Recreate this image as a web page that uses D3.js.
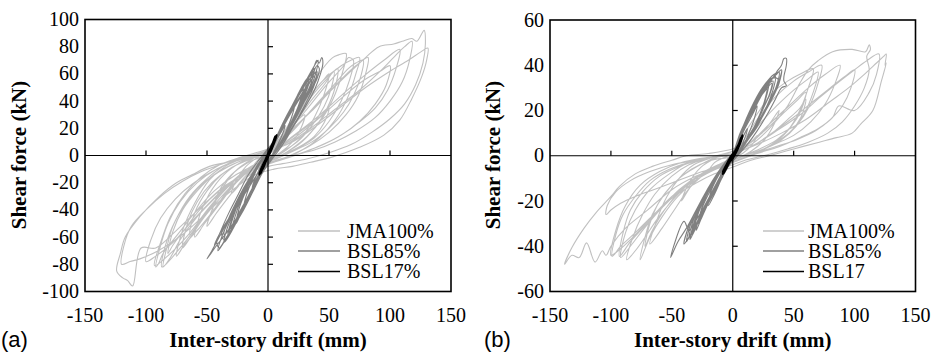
<!DOCTYPE html>
<html>
<head>
<meta charset="utf-8">
<script src="https://cdn.jsdelivr.net/npm/d3@7"></script>
<style>
  body { margin: 0; background: #fff; }
  svg { display: block; }
</style>
</head>
<body>
<svg id="chart" width="933" height="354"></svg>
<script>
// drift (mm), shear force (kN) pairs
var jmaA = [[0,0],[5,6],[12,13],[18,18],[15,12],[8,4],[0,-2],[-6,-6],[-12,-12],[-18,-16],[-14,-10],[-8,-3],[0,2],
  [10,12],[20,22],[30,30],[27,20],[20,10],[10,2],[0,-3],[-10,-9],[-20,-18],[-30,-28],[-26,-18],[-18,-8],[-8,-1],[0,3],
  [10,12],[20,26],[32,42],[45,55],[50,60],[46,45],[38,28],[28,14],[15,4],[0,-4],[-15,-12],[-30,-28],[-42,-42],[-50,-52],[-45,-38],[-36,-22],[-25,-10],[-12,-2],[0,4],
  [12,14],[25,30],[38,46],[50,58],[57,64],[55,50],[48,34],[38,20],[25,8],[10,0],[0,-4],[-12,-9],[-26,-20],[-40,-36],[-52,-50],[-60,-60],[-56,-44],[-48,-28],[-36,-14],[-22,-5],[-8,0],[0,3],
  [12,16],[25,35],[40,58],[53,72],[58,74],[64,75],[62,64],[55,45],[45,28],[32,14],[18,4],[5,-3],[-10,-8],[-25,-18],[-40,-35],[-55,-52],[-68,-65],[-75,-74],[-70,-55],[-60,-35],[-48,-18],[-35,-8],[-20,-2],[-5,2],[5,6],
  [10,10],[22,24],[35,40],[46,52],[54,62],[52,50],[46,36],[36,22],[24,10],[10,2],[0,-3],[-14,-8],[-28,-18],[-42,-32],[-54,-46],[-64,-58],[-60,-42],[-50,-26],[-38,-14],[-24,-6],[-10,-1],[0,1],
  [15,18],[30,38],[45,55],[60,66],[68,70],[75,72],[72,60],[65,42],[55,26],[42,13],[28,4],[12,-3],[0,-6],[-15,-10],[-30,-20],[-48,-38],[-65,-58],[-80,-72],[-93,-81],[-88,-64],[-80,-45],[-68,-28],[-55,-16],[-40,-7],[-25,-2],[-10,2],[0,5],
  [15,16],[30,32],[48,52],[62,66],[66,72],[70,70],[67,56],[60,40],[50,25],[38,13],[22,4],[8,-2],[-5,-6],[-20,-13],[-38,-28],[-55,-48],[-72,-68],[-87,-82],[-84,-66],[-76,-48],[-64,-30],[-50,-17],[-35,-7],[-18,-1],[0,4],
  [18,16],[36,34],[54,52],[66,64],[72,68],[78,70],[76,58],[70,44],[62,32],[50,20],[36,10],[20,3],[5,-3],[-10,-7],[-26,-14],[-44,-26],[-60,-42],[-74,-58],[-86,-72],[-90,-80],[-92,-82],[-88,-66],[-82,-50],[-72,-34],[-58,-20],[-42,-10],[-26,-4],[-10,0],[0,2],
  [15,14],[30,28],[45,42],[60,56],[72,66],[82,72],[80,60],[74,44],[64,30],[50,17],[34,7],[18,0],[4,-5],[-10,-9],[-28,-18],[-45,-32],[-62,-48],[-78,-64],[-92,-74],[-100,-78],[-96,-62],[-88,-46],[-76,-32],[-62,-21],[-46,-12],[-30,-5],[-14,-1],[0,2],
  [18,18],[35,32],[52,48],[68,62],[80,72],[91,80],[103,82],[110,84],[118,86],[122,84],[128,92],[129,82],[127,68],[121,52],[112,38],[100,27],[85,17],[68,8],[50,2],[30,-3],[12,-6],[0,-8],
  [-15,-12],[-35,-22],[-55,-38],[-75,-55],[-92,-68],[-104,-68],[-111,-96],[-115,-92],[-119,-90],[-124,-85],[-121,-72],[-117,-60],[-105,-45],[-89,-30],[-75,-20],[-62,-14],[-48,-8],[-34,-5],[-20,-1],[-7,0],[0,3],
  [20,10],[40,22],[60,36],[80,50],[100,62],[115,70],[125,76],[131,79],[130,70],[126,58],[118,42],[108,26],[95,15],[75,6],[53,-1],[35,-5],[20,-8],[5,-10],
  [-10,-14],[-30,-26],[-50,-42],[-70,-58],[-90,-70],[-105,-76],[-113,-78],[-120,-80],[-118,-66],[-112,-52],[-100,-40],[-85,-28],[-70,-19],[-55,-12],[-40,-7],[-25,-3],[-10,0],[0,2],
  [15,8],[35,20],[55,34],[75,48],[92,62],[105,74],[112,80],[118,84],[116,70],[110,54],[100,40],[88,28],[72,18],[55,10],[38,4],[20,0],[5,-4],
  [-10,-8],[-25,-16],[-42,-30],[-58,-45],[-72,-62],[-80,-75],[-86,-82],[-83,-68],[-78,-52],[-68,-36],[-55,-22],[-40,-12],[-25,-5],[-10,0],[0,1],
  [20,14],[40,28],[60,44],[78,58],[95,70],[108,78],[105,64],[98,48],[88,35],[74,24],[58,14],[40,6],[22,0],[8,-4],[-8,-9],[-24,-16],[-40,-26],[-56,-40],[-68,-54],[-78,-66],[-82,-72],[-78,-56],[-70,-40],[-58,-26],[-44,-14],[-28,-6],[-12,-1],[0,2],
  [20,12],[40,26],[60,42],[78,55],[92,62],[100,66],[97,52],[88,38],[75,25],[60,15],[42,7],[25,1],[8,-4],
  [-8,-8],[-22,-16],[-38,-30],[-52,-45],[-62,-58],[-70,-68],[-66,-50],[-58,-34],[-46,-20],[-32,-10],[-18,-4],[-5,0],[0,1],
  [15,10],[30,20],[42,28],[50,35],[46,24],[38,14],[25,6],[10,0],[0,-3],[-12,-8],[-25,-16],[-35,-28],[-45,-40],[-40,-26],[-30,-14],[-18,-6],[-5,-1],[0,0]];

var bsl85A = [[0,0],[5,8],[10,16],[14,22],[12,16],[8,8],[3,0],[0,-4],[-5,-10],[-10,-18],[-13,-24],[-11,-18],[-7,-10],[-3,-2],[0,3],
  [6,12],[12,22],[18,32],[22,38],[20,30],[15,18],[10,8],[4,0],[-2,-5],[-8,-15],[-14,-28],[-20,-38],[-18,-30],[-13,-18],[-8,-8],[-3,0],[2,5],
  [5,10],[11,20],[17,30],[23,38],[27,44],[25,36],[20,26],[14,15],[7,4],[0,-4],[-7,-14],[-14,-26],[-20,-36],[-24,-42],[-22,-34],[-17,-23],[-11,-12],[-4,-2],[0,0],
  [8,14],[15,28],[22,40],[28,50],[32,56],[30,48],[25,36],[18,22],[10,8],[3,-2],[-4,-10],[-12,-24],[-20,-38],[-26,-48],[-30,-55],[-27,-45],[-22,-32],[-15,-18],[-8,-6],[0,4],
  [6,10],[12,22],[19,34],[25,44],[29,50],[27,42],[22,30],[15,17],[8,5],[1,-3],[-6,-13],[-14,-27],[-21,-40],[-26,-50],[-24,-40],[-19,-28],[-12,-15],[-5,-4],[2,4],
  [8,15],[16,30],[24,44],[30,54],[35,60],[38,66],[40,70],[42,68],[44,72],[45,68],[43,60],[38,48],[30,35],[20,20],[12,8],[4,-2],[-4,-12],[-12,-26],[-20,-40],[-28,-52],[-34,-60],[-40,-68],[-42,-64],[-38,-54],[-32,-42],[-24,-28],[-16,-14],[-8,-4],[0,5],
  [9,16],[17,30],[25,44],[31,54],[36,62],[34,54],[29,42],[21,28],[13,14],[5,2],[-3,-8],[-11,-22],[-19,-36],[-26,-48],[-33,-58],[-30,-48],[-24,-34],[-16,-20],[-8,-8],[0,3],
  [6,12],[13,25],[20,37],[27,48],[33,57],[31,48],[26,37],[19,24],[11,11],[3,0],[-6,-10],[-16,-24],[-26,-38],[-34,-50],[-40,-60],[-44,-66],[-40,-58],[-32,-46],[-24,-36],[-18,-26],[-12,-14],[-5,-4],[1,3],
  [7,14],[14,27],[22,40],[30,52],[36,58],[40,62],[38,52],[33,42],[26,30],[18,18],[10,7],[2,-3],[-6,-14],[-15,-30],[-25,-45],[-35,-58],[-42,-66],[-50,-76],[-46,-70],[-40,-60],[-34,-50],[-26,-36],[-18,-22],[-10,-10],[-3,-1],[3,6],
  [7,13],[14,26],[21,38],[28,48],[33,56],[31,46],[26,35],[19,22],[11,9],[3,-1],[-5,-11],[-13,-25],[-21,-38],[-27,-48],[-31,-54],[-28,-44],[-22,-30],[-14,-16],[-6,-5],[1,3],
  [10,18],[18,32],[26,46],[34,58],[38,64],[36,55],[31,44],[24,32],[16,18],[8,6],[0,-4],[-8,-16],[-16,-30],[-24,-44],[-30,-56],[-36,-64],[-34,-55],[-28,-42],[-20,-28],[-12,-14],[-5,-3],[2,5],
  [10,18],[19,34],[27,48],[33,58],[38,66],[41,70],[39,60],[34,48],[26,34],[17,18],[9,6],[1,-4],[-7,-16],[-15,-30],[-23,-44],[-30,-56],[-37,-65],[-41,-70],[-38,-60],[-31,-46],[-23,-32],[-15,-18],[-7,-6],[0,2],
  [10,17],[18,30],[26,42],[32,50],[36,56],[34,48],[28,38],[20,25],[12,12],[4,0],[-5,-11],[-14,-26],[-22,-40],[-28,-50],[-32,-58],[-30,-48],[-25,-36],[-18,-23],[-10,-10],[-2,0],[4,7],
  [12,20],[20,34],[28,46],[34,54],[40,60],[37,52],[30,40],[22,26],[14,14],[6,2],[-2,-8],[-10,-20],[-18,-34],[-25,-46],[-30,-52],[-36,-58],[-33,-48],[-27,-36],[-20,-24],[-12,-12],[-4,-2],[0,2],
  [8,14],[16,28],[24,42],[30,52],[34,58],[37,62],[36,57],[40,66],[42,64],[40,56],[34,46],[26,34],[18,20],[10,8],[2,-2],[-6,-14],[-14,-28],[-22,-42],[-30,-54],[-36,-62],[-38,-56],[-32,-46],[-25,-34],[-17,-20],[-9,-8],[0,2]];

var bsl17A = [[0,0],[3,6],[5,11],[7,15],[6,12],[3,5],[0,-1],[-3,-6],[-5,-10],[-7,-14],[-6,-11],[-3,-5],[0,1],[3,7],[6,13],[5,10],[2,3],[-1,-3],[-4,-8],[-6,-13],[-5,-9],[-2,-3],[1,3],[4,9],[6,14],[5,11],[2,4],[-1,-2],[-4,-9],[-7,-13],[-5,-10],[-2,-4],[0,0]];

var jmaB = [[0,0],[8,3],[15,6],[20,9],[16,5],[8,1],[0,-1],[-8,-3],[-15,-5],[-20,-7],[-15,-3],[-8,-1],[0,1],
  [10,4],[20,8],[30,14],[38,20],[34,14],[26,7],[15,2],[0,-2],[-12,-4],[-25,-8],[-35,-14],[-42,-20],[-36,-12],[-26,-5],[-14,-1],[0,2],
  [12,5],[26,11],[40,18],[52,24],[60,28],[56,20],[48,13],[36,7],[22,3],[8,0],[-6,-3],[-22,-7],[-40,-14],[-56,-24],[-66,-33],[-72,-40],[-68,-30],[-60,-20],[-48,-12],[-34,-6],[-18,-2],[0,0],
  [5,5],[11,11],[22,20],[33,28],[45,33],[55,36],[66,38.5],[62,30],[55,20],[45,11],[32,5],[18,1],[5,-2],[-8,-4],[-20,-7],[-35,-14],[-48,-24],[-58,-32],[-68,-39],[-62,-28],[-54,-18],[-44,-10],[-32,-4],[-18,-1],[0,2],
  [10,6],[22,14],[36,22],[50,29],[62,34],[70,37],[66,28],[58,18],[46,10],[32,5],[18,1],[4,-2],[-10,-4],[-26,-8],[-44,-15],[-60,-24],[-74,-33],[-84,-40],[-92,-45],[-88,-34],[-80,-24],[-68,-15],[-52,-8],[-36,-3],[-18,-1],[0,1],
  [8,6],[20,16],[35,26],[50,33],[62,37],[73,40],[70,32],[63,22],[52,13],[40,7],[25,3],[10,0],[-5,-3],[-20,-6],[-35,-12],[-50,-20],[-62,-28],[-72,-36],[-80,-42],[-87,-46],[-82,-36],[-74,-26],[-64,-17],[-50,-9],[-36,-4],[-20,-1],[0,2],
  [15,5],[30,12],[45,22],[55,32],[62,38],[70,42],[82,46],[98,47],[109,46],[112,49],[113,47],[110,44],[112,38],[108,30],[100,22],[90,15],[78,10],[62,6],[45,3],[25,0],[10,-2],[0,-4],
  [-15,-6],[-30,-9],[-50,-15],[-70,-24],[-88,-32],[-100,-40],[-104,-44],[-107,-42],[-113,-47],[-120,-38.5],[-126,-45],[-132,-44],[-138,-48],[-132,-40.6],[-122,-32],[-112,-25],[-100,-18],[-93,-13.5],[-80,-8],[-66,-4.7],[-50,-2],[-38,0],[-20,1],[0,3],
  [14,6],[30,14],[46,22],[62,30],[76,36],[88,40],[84,32],[76,23],[64,15],[50,9],[34,5],[18,1],[4,-2],[-12,-5],[-30,-10],[-50,-18],[-68,-28],[-82,-36],[-94,-42],[-100,-44],[-96,-33],[-88,-22],[-76,-13],[-60,-7],[-42,-3],[-24,-1],[0,1],
  [20,5],[40,10],[60,16],[80,24],[95,30],[108,36],[118,41],[124,44],[126,45],[125,40],[126,41],[122,33],[115,20],[105,14],[98,10],[85,8],[71,6],[50,3],[30,0],[15,-2],[0,-5],
  [-15,-8],[-30,-12],[-48,-18],[-65,-26],[-80,-34],[-92,-40],[-99,-44.5],[-96,-35],[-90,-26],[-80,-18],[-68,-11],[-52,-6],[-36,-3],[-20,-1],[0,1],
  [18,5],[36,11],[55,18],[72,26],[88,33],[100,38],[110,42],[120,45],[118,36],[112,28],[100,20],[87,22],[82,17],[70,12],[55,8],[38,4],[20,1],[5,-2],
  [-10,-5],[-25,-9],[-42,-15],[-58,-23],[-72,-31],[-84,-38],[-93,-44.5],[-90,-34],[-84,-24],[-74,-16],[-60,-9],[-45,-5],[-28,-2],[-12,0],[0,1],
  [15,4],[32,10],[50,17],[66,24],[80,30],[92,35],[100,38],[97,30],[90,22],[80,16],[68,11],[52,7],[35,4],[18,1],[5,-2],
  [-10,-5],[-28,-10],[-45,-18],[-58,-27],[-68,-36],[-76,-46],[-72,-36],[-66,-26],[-56,-17],[-44,-10],[-30,-5],[-15,-1],[0,1],
  [15,4],[30,9],[45,16],[55,21],[60,25],[56,17],[48,11],[36,6],[22,2],[8,-1],[-8,-4],[-25,-7],[-45,-11],[-65,-15],[-80,-18],[-92,-21],[-100,-24],[-104,-26],[-103,-22],[-96,-16],[-84,-11],[-68,-7],[-50,-4],[-30,-2],[-12,0],[0,1]];

var bsl85B = [[0,0],[4,4],[8,8],[12,12],[10,8],[6,3],[2,0],[-3,-3],[-7,-7],[-11,-11],[-9,-7],[-5,-3],[0,1],
  [5,6],[10,12],[16,18],[20,22],[18,17],[14,11],[9,5],[3,0],[-3,-4],[-9,-10],[-15,-17],[-20,-22],[-18,-16],[-13,-10],[-7,-4],[0,1],
  [5,7],[11,14],[18,21],[24,27],[28,30],[26,24],[22,18],[16,11],[9,5],[2,0],[-5,-6],[-12,-13],[-19,-20],[-25,-26],[-28,-30],[-25,-23],[-19,-16],[-12,-9],[-5,-3],[0,1],
  [6,8],[12,16],[20,24],[26,30],[30,33],[28,27],[24,20],[18,13],[11,6],[4,0],[-4,-5],[-12,-13],[-20,-21],[-26,-28],[-30,-33],[-27,-26],[-22,-18],[-15,-11],[-8,-5],[0,1],
  [6,8],[14,18],[22,26],[30,32],[36,37],[40,40],[42,43],[44,43],[44,40],[42,35],[42,33],[44,31],[40,30],[35,25],[28,18],[20,11],[12,5],[4,0],[-4,-5],[-12,-12],[-20,-20],[-28,-28],[-34,-34],[-38,-38],[-35,-31],[-29,-24],[-22,-16],[-14,-9],[-6,-3],[0,1],
  [7,11],[15,21],[23,29],[30,34],[34,36],[38,37],[36,31],[31,25],[24,18],[16,11],[8,4],[1,0],[-7,-6],[-15,-14],[-23,-22],[-30,-30],[-36,-36],[-40,-39],[-36,-31],[-29,-23],[-21,-15],[-13,-8],[-5,-2],[0,1],
  [6,9],[14,19],[22,27],[30,33],[36,36],[40,38],[38,32],[34,27],[27,20],[19,12],[11,6],[3,0],[-5,-5],[-13,-12],[-20,-19],[-26,-25],[-32,-30],[-36,-33],[-40,-29],[-51,-45],[-45,-38],[-38,-32],[-30,-24],[-22,-16],[-14,-9],[-6,-3],[0,1],
  [6,10],[13,18],[21,26],[28,31],[33,33],[31,28],[26,22],[19,14],[11,7],[3,1],[-5,-5],[-13,-13],[-21,-21],[-28,-29],[-33,-35],[-30,-28],[-24,-20],[-17,-13],[-9,-6],[-2,-1],[0,0],
  [7,10],[15,20],[23,28],[30,33],[35,35],[33,29],[28,22],[21,15],[13,8],[5,2],[-3,-3],[-11,-10],[-19,-18],[-27,-27],[-33,-33],[-36,-36],[-32,-28],[-26,-21],[-19,-14],[-11,-7],[-4,-2],[2,2],
  [8,11],[17,22],[26,30],[34,35],[40,38],[38,33],[33,26],[26,19],[18,12],[10,6],[2,0],[-6,-6],[-14,-14],[-22,-23],[-29,-30],[-35,-37],[-32,-30],[-26,-22],[-18,-14],[-10,-7],[-3,-1],[0,0],
  [8,12],[16,22],[24,29],[31,34],[37,34],[34,28],[29,22],[22,15],[15,9],[7,3],[0,-1],[-8,-7],[-16,-15],[-24,-24],[-30,-31],[-34,-35],[-31,-28],[-25,-20],[-18,-13],[-10,-6],[-3,-1],[0,0],
  [6,9],[13,17],[20,24],[27,29],[32,32],[30,27],[25,21],[19,14],[12,8],[5,2],[-2,-2],[-10,-9],[-18,-17],[-25,-25],[-31,-31],[-28,-25],[-23,-19],[-16,-12],[-9,-6],[-2,-1],[0,0]];

var bsl17B = [[0,0],[3,3],[6,6],[8,9],[7,7],[4,3],[1,0],[-2,-2],[-5,-5],[-8,-8],[-7,-6],[-4,-3],[-1,0],[2,2],[5,5],[7,8],[6,6],[3,2],[0,-1],[-3,-3],[-6,-6],[-8,-7],[-6,-5],[-3,-2],[0,0],[4,4],[7,7],[5,5],[2,1],[-1,-1],[-4,-4],[-7,-7],[-5,-4],[-2,-1],[0,0]];

var xTicks = [-150, -100, -50, 0, 50, 100, 150];
var yTicksA = [-100, -80, -60, -40, -20, 0, 20, 40, 60, 80, 100];
var yTicksB = [-60, -40, -20, 0, 20, 40, 60];
var legendA = ["JMA100%", "BSL85%", "BSL17%"];
var legendB = ["JMA100%", "BSL85%", "BSL17"];
var colors = ["#c0c0c0", "#808080", "#000000"];
var widths = [1.1, 1.1, 2.4];

var svg = d3.select("#chart");

function label(g, bold) {
  var t = g.append("text")
    .attr("fill", "#000")
    .attr("font-family", "Liberation Serif")
    .attr("font-size", bold ? 21 : 20);
  if (bold) t.attr("font-weight", "bold");
  return t;
}

function drawPanel(opt) {
  var x = d3.scaleLinear().domain([-150, 150]).range([opt.left, opt.right]);
  var y = d3.scaleLinear().domain(opt.yDomain).range([opt.bottom, opt.top]);
  var g = svg.append("g");

  var line = d3.line()
    .x(function(d) { return x(d[0]); })
    .y(function(d) { return y(d[1]); })
    .curve(d3.curveCatmullRom.alpha(0.5));

  // curves, light first so darker ones sit on top
  opt.series.forEach(function(s, i) {
    g.append("path")
      .datum(s)
      .attr("d", line)
      .attr("fill", "none")
      .attr("stroke", colors[i])
      .attr("stroke-width", widths[i])
      .attr("stroke-linejoin", "round");
  });

  // zero lines through origin
  g.append("line")
    .attr("x1", opt.left).attr("x2", opt.right)
    .attr("y1", y(0)).attr("y2", y(0))
    .attr("stroke", "#000").attr("stroke-width", 1.2);
  g.append("line")
    .attr("x1", x(0)).attr("x2", x(0))
    .attr("y1", opt.top).attr("y2", opt.bottom)
    .attr("stroke", "#000").attr("stroke-width", 1.2);

  // tick marks on the zero lines
  g.selectAll(".xt").data(xTicks.filter(function(v) { return Math.abs(v) != 150 && v != 0; }))
    .enter().append("line")
    .attr("x1", function(d) { return x(d); }).attr("x2", function(d) { return x(d); })
    .attr("y1", y(0)).attr("y2", y(0) - 5)
    .attr("stroke", "#000").attr("stroke-width", 1.2);
  g.selectAll(".yt").data(opt.yTicks.filter(function(v) { return v != 0 && v != opt.yDomain[0] && v != opt.yDomain[1]; }))
    .enter().append("line")
    .attr("x1", x(0)).attr("x2", x(0) + 5)
    .attr("y1", function(d) { return y(d); }).attr("y2", function(d) { return y(d); })
    .attr("stroke", "#000").attr("stroke-width", 1.2);

  // frame
  g.append("rect")
    .attr("x", opt.left).attr("y", opt.top)
    .attr("width", opt.right - opt.left).attr("height", opt.bottom - opt.top)
    .attr("fill", "none").attr("stroke", "#000").attr("stroke-width", 1.6);

  // tick labels
  xTicks.forEach(function(v) {
    label(g).attr("x", x(v)).attr("y", 321.5).attr("text-anchor", "middle").text(v);
  });
  opt.yTicks.forEach(function(v) {
    label(g).attr("x", opt.left - 6).attr("y", y(v) + 6.5).attr("text-anchor", "end").text(v);
  });

  // titles
  label(g, true).attr("x", x(0)).attr("y", 347).attr("text-anchor", "middle")
    .text("Inter-story drift (mm)");
  label(g, true).attr("transform", "translate(" + opt.yTitleX + ",155) rotate(-90)")
    .attr("text-anchor", "middle").text("Shear force (kN)");
  g.append("text").attr("x", opt.tagX).attr("y", 347)
    .attr("font-family", "Liberation Sans").attr("font-size", 22).attr("fill", "#000")
    .text(opt.tag);

  // legend
  var rows = [231, 251, 271.5];
  opt.legend.forEach(function(name, i) {
    g.append("line")
      .attr("x1", opt.legX1).attr("x2", opt.legX2)
      .attr("y1", rows[i]).attr("y2", rows[i])
      .attr("stroke", colors[i]).attr("stroke-width", 1.6);
    label(g).attr("x", opt.legText).attr("y", rows[i] + 6.5).text(name);
  });
}

drawPanel({
  left: 85, right: 451, top: 19.5, bottom: 291.5,
  yDomain: [-100, 100], yTicks: yTicksA,
  series: [jmaA, bsl85A, bsl17A],
  legend: legendA, legX1: 298, legX2: 340, legText: 347,
  yTitleX: 26, tag: "(a)", tagX: 1
});

drawPanel({
  left: 550, right: 915.5, top: 20, bottom: 291.5,
  yDomain: [-60, 60], yTicks: yTicksB,
  series: [jmaB, bsl85B, bsl17B],
  legend: legendB, legX1: 763, legX2: 804, legText: 808,
  yTitleX: 500, tag: "(b)", tagX: 484
});
</script>
</body>
</html>
